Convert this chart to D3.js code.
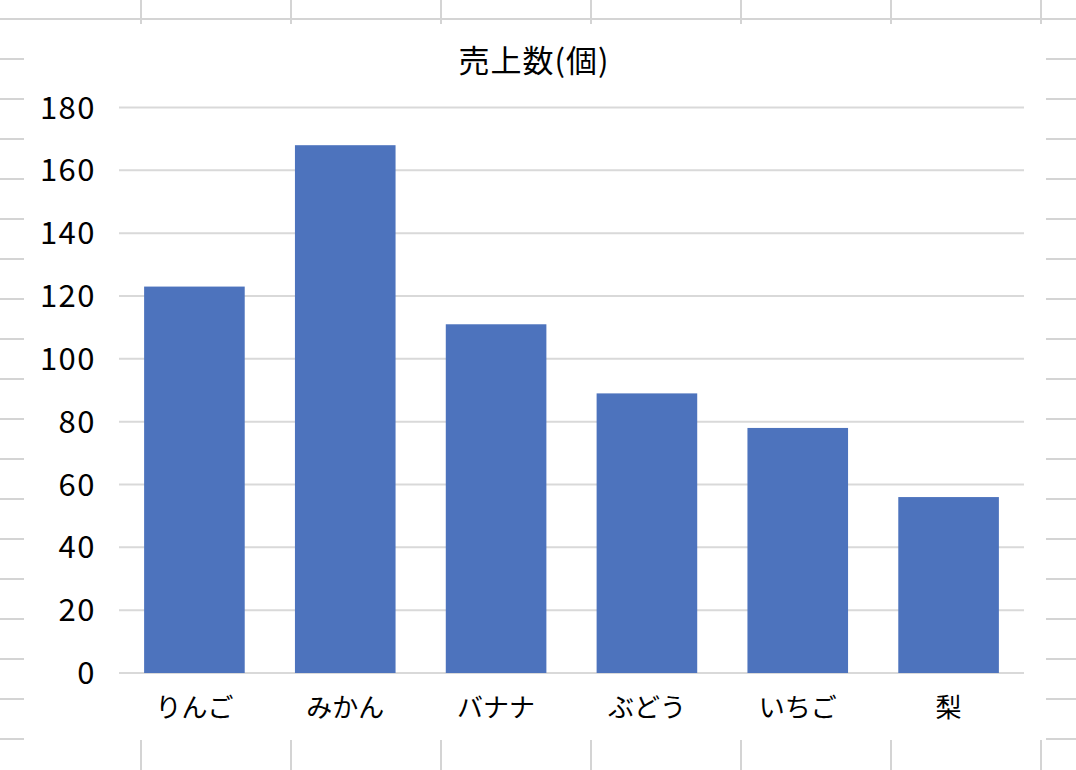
<!DOCTYPE html>
<html>
<head>
<meta charset="utf-8">
<script src="https://cdn.jsdelivr.net/npm/d3@7"></script>
<style>
  body { margin: 0; background: #fff; }
  text { font-family: "Noto Sans CJK JP", "Noto Sans", sans-serif; fill: #000; }
</style>
</head>
<body>
<div id="chart-area"></div>
<script>
// data
var categories = ["りんご", "みかん", "バナナ", "ぶどう", "いちご", "梨"];
var sales = [123, 168, 111, 89, 78, 56];
var yTicks = [0, 20, 40, 60, 80, 100, 120, 140, 160, 180];
var chartTitle = "売上数(個)";

var W = 1076, H = 770;

var svg = d3.select("#chart-area")
  .append("svg")
    .attr("width", W)
    .attr("height", H);

// spreadsheet cells behind the chart
var sheet = svg.append("g");
d3.range(19, H, 40).forEach(function(yy) {
  sheet.append("line")
    .attr("x1", 0).attr("x2", W)
    .attr("y1", yy).attr("y2", yy)
    .attr("stroke", "#d4d4d4")
    .attr("stroke-width", 2);
});
d3.range(141, W, 150).forEach(function(xx) {
  sheet.append("line")
    .attr("x1", xx).attr("x2", xx)
    .attr("y1", 0).attr("y2", H)
    .attr("stroke", "#d4d4d4")
    .attr("stroke-width", 2);
});

// chart area (white, covers the cells)
svg.append("rect")
  .attr("x", 24).attr("y", 24)
  .attr("width", 1022).attr("height", 716)
  .attr("fill", "#fff");

var x = d3.scaleBand()
  .domain(categories)
  .range([119, 1024])
  .paddingInner(0.333)
  .paddingOuter(0.1665);

var y = d3.scaleLinear()
  .domain([0, 180])
  .range([673, 107.5]);

// gridlines
svg.append("g")
  .selectAll("line")
  .data(yTicks)
  .enter()
  .append("line")
    .attr("x1", 119)
    .attr("x2", 1024)
    .attr("y1", function(d) { return y(d); })
    .attr("y2", function(d) { return y(d); })
    .attr("stroke", "#d9d9d9")
    .attr("stroke-width", 2);

// y labels
svg.append("g")
  .selectAll("text")
  .data(yTicks)
  .enter()
  .append("text")
    .attr("x", 96)
    .attr("y", function(d) { return y(d); })
    .attr("dy", "0.36em")
    .attr("text-anchor", "end")
    .attr("font-size", "31px")
    .attr("letter-spacing", "1.5px")
    .text(function(d) { return d; });

// bars
svg.append("g")
  .selectAll("rect")
  .data(sales)
  .enter()
  .append("rect")
    .attr("x", function(d, i) { return x(categories[i]); })
    .attr("y", function(d) { return y(d); })
    .attr("width", x.bandwidth())
    .attr("height", function(d) { return y(0) - y(d); })
    .attr("fill", "#4d73bd");

// x labels
svg.append("g")
  .selectAll("text")
  .data(categories)
  .enter()
  .append("text")
    .attr("x", function(d) { return x(d) + x.bandwidth() / 2; })
    .attr("y", 708)
    .attr("dy", "0.36em")
    .attr("text-anchor", "middle")
    .attr("font-size", "26px")
    .text(function(d) { return d; });

// title
svg.append("text")
  .attr("x", 534)
  .attr("y", 72)
  .attr("text-anchor", "middle")
  .attr("font-size", "31px")
  .attr("letter-spacing", "1px")
  .text(chartTitle);
</script>
</body>
</html>
